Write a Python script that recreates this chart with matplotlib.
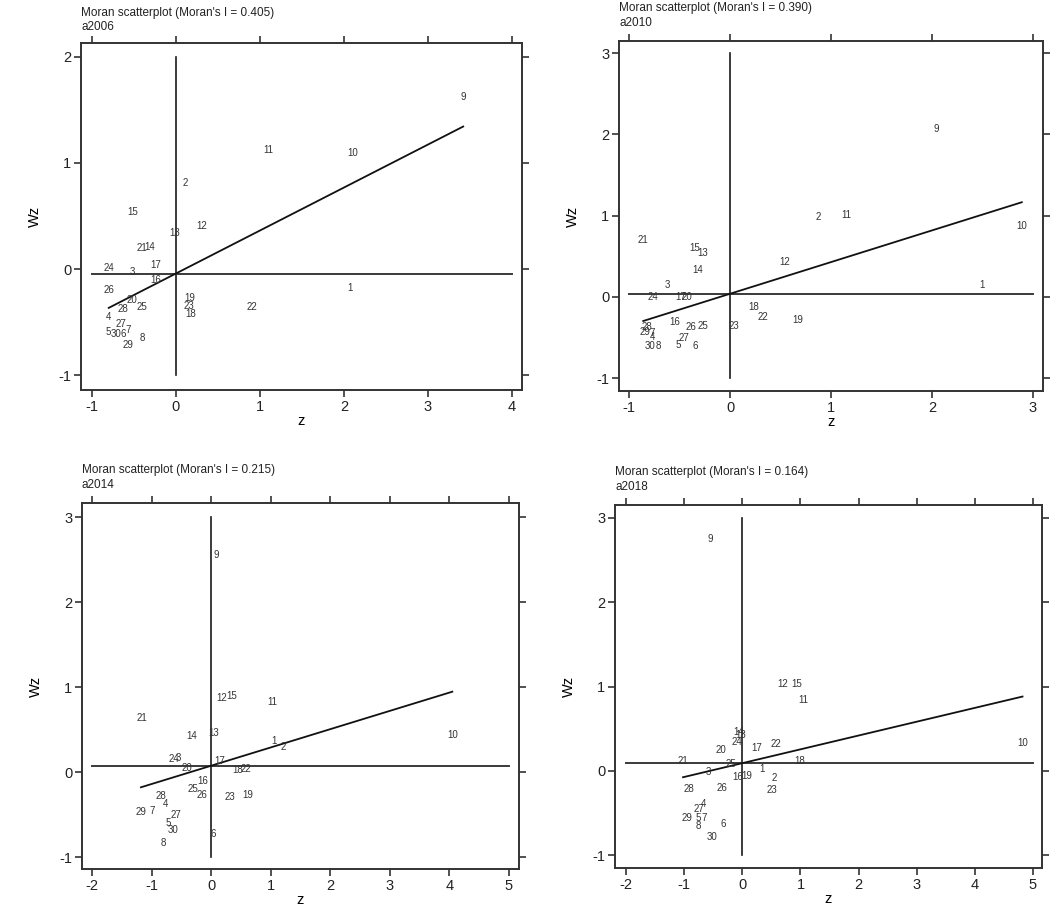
"""Moran scatterplots of z against its spatial lag Wz for four years."""
import matplotlib
matplotlib.use("Agg")
import matplotlib.pyplot as plt
import numpy as np

plt.rcParams["font.family"] = ["Liberation Sans", "DejaVu Sans"]
plt.rcParams["axes.unicode_minus"] = False

# region ids 1..30
ids = list(range(1, 31))

z_2006 = [2.07, 0.11, -0.52, -0.80, -0.80, -0.63, -0.57, -0.40, 3.42, 2.11,
          1.10, 0.31, -0.02, -0.31, -0.51, -0.24, -0.24, 0.17, 0.17, -0.52,
          -0.40, 0.90, 0.15, -0.80, -0.40, -0.80, -0.65, -0.63, -0.57, -0.71]
wz_2006 = [-0.18, 0.81, -0.03, -0.45, -0.59, -0.61, -0.57, -0.65, 1.62, 1.09,
           1.12, 0.41, 0.34, 0.21, 0.54, -0.10, 0.04, -0.42, -0.27, -0.29,
           0.20, -0.36, -0.35, 0.01, -0.36, -0.20, -0.52, -0.38, -0.72, -0.61]

z_2010 = [2.50, 0.87, -0.62, -0.77, -0.51, -0.34, -0.77, -0.71, 2.04, 2.89,
          1.15, 0.54, -0.27, -0.32, -0.35, -0.55, -0.49, 0.23, 0.67, -0.43,
          -0.86, 0.33, 0.04, -0.76, -0.27, -0.39, -0.46, -0.82, -0.84, -0.79]
wz_2010 = [0.15, 0.98, 0.15, -0.49, -0.59, -0.60, -0.45, -0.61, 2.07, 0.87,
           1.01, 0.43, 0.54, 0.33, 0.60, -0.31, 0.00, -0.13, -0.29, 0.00,
           0.70, -0.25, -0.36, 0.00, -0.36, -0.37, -0.51, -0.37, -0.43, -0.61]

z_2014 = [1.06, 1.21, -0.55, -0.76, -0.72, 0.04, -0.99, -0.81, 0.08, 4.05,
          1.03, 0.17, 0.05, -0.32, 0.35, -0.15, 0.15, 0.44, 0.62, -0.40,
          -1.16, 0.59, 0.32, -0.62, -0.30, -0.15, -0.59, -0.84, -1.18, -0.64]
wz_2014 = [0.37, 0.30, 0.16, -0.38, -0.60, -0.73, -0.46, -0.84, 2.55, 0.44,
           0.82, 0.87, 0.46, 0.42, 0.90, -0.11, 0.13, 0.03, -0.27, 0.05,
           0.64, 0.04, -0.29, 0.15, -0.20, -0.27, -0.51, -0.28, -0.47, -0.68]

z_2018 = [0.34, 0.55, -0.59, -0.66, -0.76, -0.33, -0.66, -0.76, -0.55, 4.82,
          1.05, 0.70, -0.02, -0.07, 0.94, -0.07, 0.24, 0.98, 0.08, -0.36,
          -1.02, 0.57, 0.51, -0.09, -0.19, -0.35, -0.74, -0.91, -0.96, -0.52]
wz_2018 = [0.02, -0.09, -0.01, -0.40, -0.56, -0.63, -0.56, -0.65, 2.75, 0.33,
           0.84, 1.03, 0.42, 0.46, 1.03, -0.07, 0.27, 0.12, -0.06, 0.25,
           0.12, 0.32, -0.23, 0.34, 0.08, -0.20, -0.45, -0.22, -0.56, -0.79]

years = ["a2006", "a2010", "a2014", "a2018"]
morans_i = [0.405, 0.390, 0.215, 0.164]
z_all = [z_2006, z_2010, z_2014, z_2018]
wz_all = [wz_2006, wz_2010, wz_2014, wz_2018]
xticks_all = [[-1, 0, 1, 2, 3, 4], [-1, 0, 1, 2, 3],
              [-2, -1, 0, 1, 2, 3, 4, 5], [-2, -1, 0, 1, 2, 3, 4, 5]]
yticks_all = [[-1, 0, 1, 2], [-1, 0, 1, 2, 3],
              [-1, 0, 1, 2, 3], [-1, 0, 1, 2, 3]]

# layout: axes boxes in pixels (left, top, right, bottom) and axis ranges
W, H = 1052, 907
boxes = [(81, 43, 522, 390), (619, 41, 1043, 391),
         (82, 503, 519, 869), (615, 505, 1042, 868)]
xlims = [(-1.13, 4.12), (-1.10, 3.10), (-2.17, 5.17), (-2.19, 5.155)]
ylims = [(-1.14, 2.13), (-1.16, 3.15), (-1.14, 3.165), (-1.154, 3.154)]
title_off = [(30, 16), (33, 18), (33, 18), (33, 18)]

fig = plt.figure(figsize=(W / 100, H / 100), dpi=100)

for k in range(4):
    l, t, r, b = boxes[k]
    ax = fig.add_axes([l / W, 1 - b / H, (r - l) / W, (b - t) / H])
    z = np.array(z_all[k])
    wz = np.array(wz_all[k])
    xt, yt = xticks_all[k], yticks_all[k]

    # quadrant lines
    m = wz.mean()
    ax.plot([0, 0], [yt[0], yt[-1]], color="#1a1a1a", lw=1.2)
    ax.plot([xt[0], xt[-1]], [m, m], color="#3a3a3a", lw=1.4)
    # regression of Wz on z: slope = Moran's I
    xs = np.array([z.min(), z.max()])
    ax.plot(xs, m + morans_i[k] * (xs - z.mean()), color="#111111", lw=1.3)

    for i, a, c in zip(ids, z, wz):
        ax.text(a, c, str(i), fontsize=7, ha="center", va="center", color="#333333")

    ax.set_xlim(*xlims[k]); ax.set_ylim(*ylims[k])
    ax.set_xticks(xt); ax.set_yticks(yt)
    ax.tick_params(direction="out", length=5, width=1.1, top=True, right=True,
                   labelsize=10.5, pad=2, colors="#222222")
    for s in ax.spines.values():
        s.set_linewidth(1.4); s.set_color("#333333")
    ax.set_xlabel("z", fontsize=10.5, labelpad=0)
    ax.set_ylabel("Wz", fontsize=10.5, labelpad=12)

    ax.annotate(f"Moran scatterplot (Moran's I = {morans_i[k]:.3f})", xy=(0, 1),
                xycoords="axes fraction", xytext=(0, title_off[k][0]),
                textcoords="offset pixels", ha="left", va="center",
                fontsize=8.5, color="#222222")
    ax.annotate(years[k], xy=(0, 1), xycoords="axes fraction",
                xytext=(0, title_off[k][1]), textcoords="offset pixels",
                ha="left", va="center", fontsize=8.5, color="#222222")

fig.savefig("out.png", dpi=100)
